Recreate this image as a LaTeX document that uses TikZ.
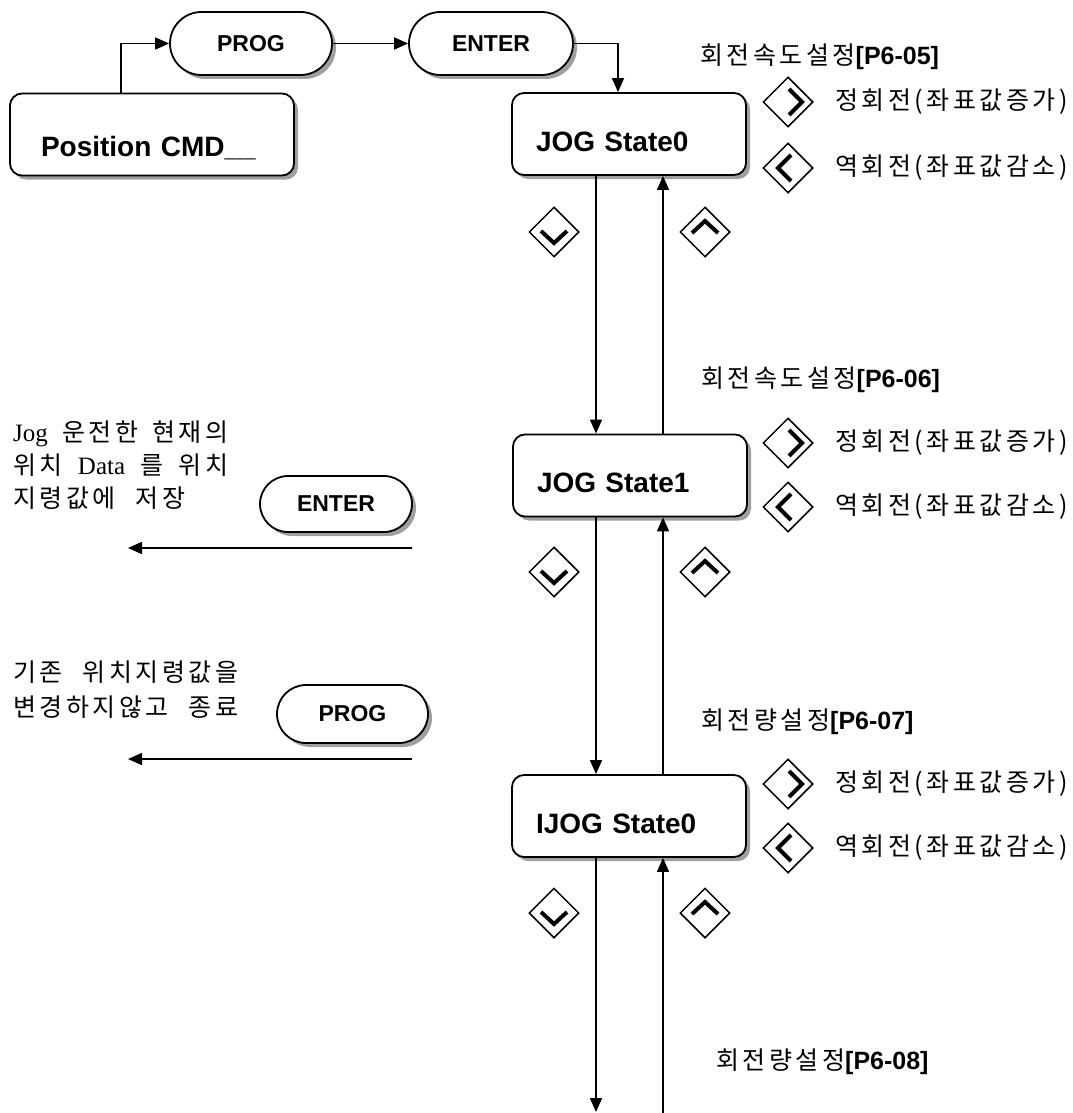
\documentclass[tikz,border=0pt]{standalone}
\usepackage{fontspec}
\setmainfont{Liberation Sans}
\newfontfamily\lsans{Liberation Sans}
\newfontfamily\ser{Liberation Serif}
\newfontfamily\kr{Noto Sans CJK KR}[LetterSpace=14]
\usetikzlibrary{arrows.meta, shapes.geometric, shapes.misc, shadows}
\begin{document}
\begin{tikzpicture}[x=1pt, y=-1pt,
  arr/.style={-{Triangle[length=14pt,width=12pt]}, line width=1.6pt},
  shadowed/.style={drop shadow={shadow xshift=4pt, shadow yshift=-4pt, fill=gray!75, opacity=1}},
  box/.style={draw, line width=1.8pt, rounded corners=12pt, fill=white, shadowed, minimum height=82pt, inner ysep=0pt, align=left, font=\lsans\bfseries\fontsize{28}{32}\selectfont},
  jogbox/.style={box, minimum width=234pt, text width=186pt, inner xsep=24pt, text height=34pt, text depth=0pt},
  pill/.style={draw, line width=1.8pt, rounded rectangle, fill=white, shadowed, inner sep=0pt, font=\lsans\bfseries\fontsize{23}{27}\selectfont},
  key/.style={draw, diamond, line width=1.5pt, minimum width=50pt, minimum height=50pt, inner sep=0pt},
  chev/.style={line width=4pt},
  keyR/.style={key, path picture={\draw[chev] ([shift={(1pt,13pt)}]path picture bounding box.center) -- ++(13pt,-13pt) -- ++(-13pt,-13pt);}},
  keyL/.style={key, path picture={\draw[chev] ([shift={(3pt,13pt)}]path picture bounding box.center) -- ++(-13pt,-13pt) -- ++(13pt,-13pt);}},
  keyD/.style={key, path picture={\draw[chev] ([shift={(-13pt,1pt)}]path picture bounding box.center) -- ++(13pt,-12pt) -- ++(13pt,12pt);}},
  keyU/.style={key, path picture={\draw[chev] ([shift={(-13pt,-1pt)}]path picture bounding box.center) -- ++(13pt,12pt) -- ++(13pt,-12pt);}},
  lbl/.style={anchor=west, inner sep=0pt, font=\kr\fontsize{25}{30}\selectfont},
  note/.style={anchor=base west, inner sep=0pt, font=\kr\fontsize{25}{30}\selectfont},
]
\useasboundingbox (0,0) rectangle (1072,1113);

% top row
\node[box, minimum width=284pt, text width=222pt, inner xsep=31pt, text height=44pt, text depth=0pt] (poscmd) at (152,134.5) {Position CMD\_\_};
\node[pill, minimum width=162pt, minimum height=63pt] (prog1) at (251,43.5) {PROG};
\node[pill, minimum width=164pt, minimum height=63pt] (enter1) at (491,43.5) {ENTER};

% state boxes
\node[jogbox] (jog0) at (629,134) {JOG State0};
\node[jogbox] (jog1) at (630,475.5) {JOG State1};
\node[jogbox] (ijog) at (629,816) {IJOG State0};

% headers
\node[lbl] (h0) at (700,57) {회전속도설정{\lsans\bfseries [P6-05]}};
\node[lbl] (h1) at (701,380) {회전속도설정{\lsans\bfseries [P6-06]}};
\node[lbl] (h2) at (701,722) {회전량설정{\lsans\bfseries [P6-07]}};
\node[lbl] (h3) at (716,1062) {회전량설정{\lsans\bfseries [P6-08]}};

% right keys and labels
\node[keyR] (r0) at (788,102) {};
\node[keyL] (l0) at (788,168) {};
\node[lbl] (r0t) at (835,102) {정회전(좌표값증가)};
\node[lbl] (l0t) at (835,168) {역회전(좌표값감소)};
\node[keyR] (r1) at (788,443) {};
\node[keyL] (l1) at (788,507) {};
\node[lbl] (r1t) at (835,443) {정회전(좌표값증가)};
\node[lbl] (l1t) at (835,507) {역회전(좌표값감소)};
\node[keyR] (r2) at (788,784) {};
\node[keyL] (l2) at (788,848) {};
\node[lbl] (r2t) at (835,784) {정회전(좌표값증가)};
\node[lbl] (l2t) at (835,848) {역회전(좌표값감소)};

% up/down keys
\node[keyD] (d0) at (554,232) {};
\node[keyU] (u0) at (705,232) {};
\node[keyD] (d1) at (554,572) {};
\node[keyU] (u1) at (705,572) {};
\node[keyD] (d2) at (554,913) {};
\node[keyU] (u2) at (705,913) {};

% left notes and pills
\node[note] (n1) at (13,441) {\makebox[215pt][s]{{\ser Jog} 운전한 현재의}};
\node[note] (n2) at (13,474) {\makebox[215pt][s]{위치 {\ser Data} 를 위치}};
\node[note] (n3) at (13,507) {\makebox[172pt][s]{지령값에 저장}};
\node[note] (n4) at (13,681) {\makebox[225pt][s]{기존 위치지령값을}};
\node[note] (n5) at (13,716) {\makebox[225pt][s]{변경하지않고 종료}};
\node[pill, minimum width=152pt, minimum height=56pt] (enter2) at (336,504) {ENTER};
\node[pill, minimum width=151pt, minimum height=58pt] (prog2) at (352.5,714) {PROG};

\coordinate (a1s) at (412,548);
\coordinate (a1e) at (128,548);
\coordinate (a2s) at (412,759);
\coordinate (a2e) at (128,759);
\coordinate (bd) at (596,1112);
\coordinate (bu) at (663,1113);

% connectors
\draw[arr] ([xshift=112pt]poscmd.north west) |- (prog1.west);
\draw[arr] (prog1.east) -- (enter1.west);
\draw[arr] (enter1.east) -| ([xshift=-11pt]jog0.north);
\draw[arr] ([xshift=-33pt]jog0.south) -- ([xshift=-34pt]jog1.north);
\draw[arr] ([xshift=33pt]jog1.north) -- ([xshift=34pt]jog0.south);
\draw[arr] ([xshift=-34pt]jog1.south) -- ([xshift=-33pt]ijog.north);
\draw[arr] ([xshift=34pt]ijog.north) -- ([xshift=33pt]jog1.south);
\draw[arr] ([xshift=-33pt]ijog.south) -- (bd);
\draw[arr] (bu) -- ([xshift=34pt]ijog.south);
\draw[arr] (a1s) -- (a1e);
\draw[arr] (a2s) -- (a2e);
\end{tikzpicture}
\end{document}
